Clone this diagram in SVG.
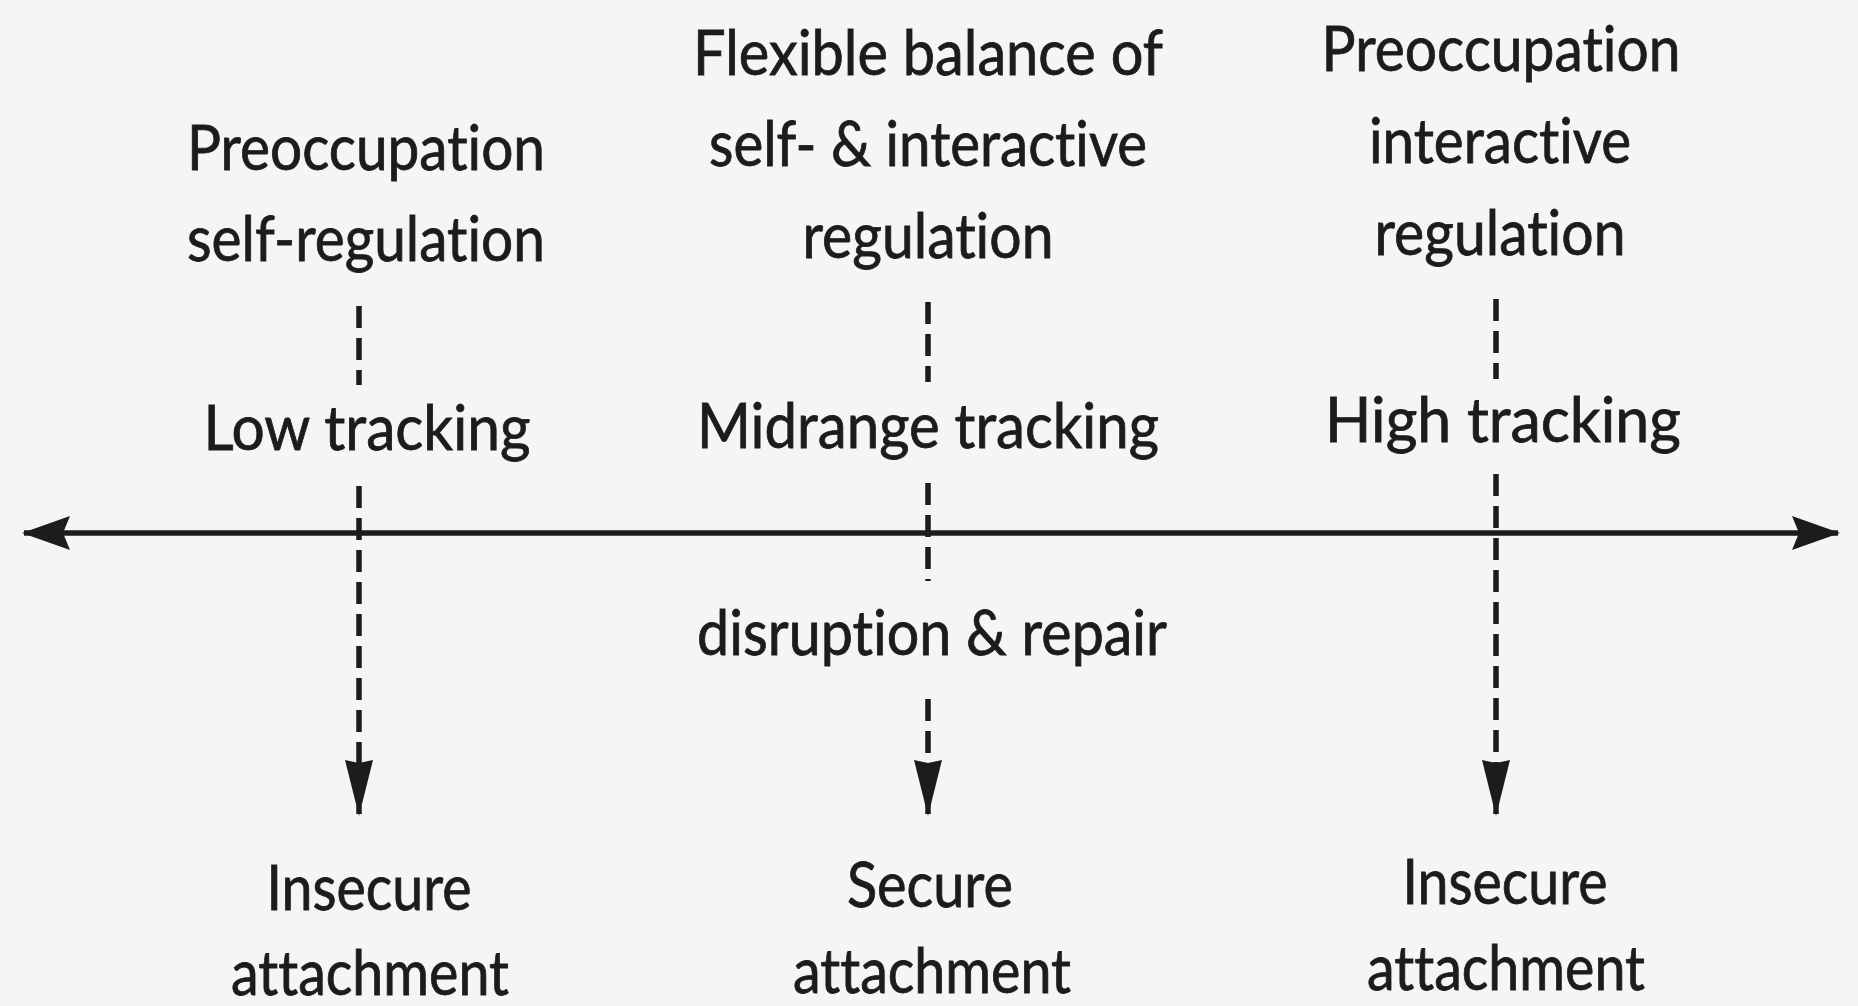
<svg xmlns="http://www.w3.org/2000/svg" width="1858" height="1006" viewBox="0 0 1858 1006">
<style>
text{font-family:Lato,"Liberation Sans",sans-serif;font-size:61px;fill:#1c1c1c;stroke:#1c1c1c;stroke-width:0.8;text-anchor:middle;font-variant-ligatures:none;font-feature-settings:"liga" 0,"dlig" 0}
.dash{stroke:#1c1c1c;stroke-width:5.5;stroke-dasharray:22 10;fill:none}
.axis{stroke:#1c1c1c;stroke-width:5.5;fill:none}
</style>
<defs>
<marker id="ah" markerUnits="userSpaceOnUse" markerWidth="60" markerHeight="32" viewBox="0 0 60 32" refX="56" refY="16" orient="auto-start-reverse">
<path d="M2,2 L58,16 L2,30 L5,16 Z" fill="#1c1c1c"/>
</marker>
<marker id="ax" markerUnits="userSpaceOnUse" markerWidth="52" markerHeight="38" viewBox="0 0 52 38" refX="48" refY="19" orient="auto-start-reverse">
<path d="M2,2 L50,19 L2,36 L9,19 Z" fill="#1c1c1c"/>
</marker>
</defs>
<rect width="1858" height="1006" fill="#f4f5f5"/>
<g id="connectors">
<line class="axis" x1="24" y1="533" x2="1838" y2="533" marker-start="url(#ax)" marker-end="url(#ax)"/>
<line class="dash" x1="359" y1="306" x2="359" y2="385"/>
<line class="dash" x1="928" y1="302" x2="928" y2="382"/>
<line class="dash" x1="1496" y1="299" x2="1496" y2="379"/>
<line class="dash" x1="359" y1="486" x2="359" y2="814" marker-end="url(#ah)"/>
<line class="dash" x1="928" y1="483" x2="928" y2="581"/>
<line class="dash" x1="928" y1="699" x2="928" y2="814" marker-end="url(#ah)"/>
<line class="dash" x1="1496" y1="474" x2="1496" y2="814" marker-end="url(#ah)"/>
</g>
<g id="left-top"><text x="366" y="170" textLength="358" lengthAdjust="spacingAndGlyphs">Preoccupation</text><text x="366" y="261" textLength="358" lengthAdjust="spacingAndGlyphs">self-regulation</text></g>
<g id="mid-top"><text x="928" y="75" textLength="470" lengthAdjust="spacingAndGlyphs">Flexible balance of</text><text x="928" y="166" textLength="438" lengthAdjust="spacingAndGlyphs">self- &amp; interactive</text><text x="928" y="258" textLength="251" lengthAdjust="spacingAndGlyphs">regulation</text></g>
<g id="right-top"><text x="1501" y="71" textLength="359" lengthAdjust="spacingAndGlyphs">Preoccupation</text><text x="1500" y="163" textLength="262" lengthAdjust="spacingAndGlyphs">interactive</text><text x="1500" y="255" textLength="251" lengthAdjust="spacingAndGlyphs">regulation</text></g>
<g id="low"><text x="367" y="450" textLength="327" lengthAdjust="spacingAndGlyphs">Low tracking</text></g>
<g id="mid"><text x="928" y="448" textLength="462" lengthAdjust="spacingAndGlyphs">Midrange tracking</text></g>
<g id="high"><text x="1503" y="442" textLength="356" lengthAdjust="spacingAndGlyphs">High tracking</text></g>
<g id="disruption"><text x="932" y="655" textLength="470" lengthAdjust="spacingAndGlyphs">disruption &amp; repair</text></g>
<g id="left-bottom"><text x="369" y="910" textLength="205" lengthAdjust="spacingAndGlyphs">Insecure</text><text x="370" y="995" textLength="278" lengthAdjust="spacingAndGlyphs">attachment</text></g>
<g id="mid-bottom"><text x="930" y="907" textLength="166" lengthAdjust="spacingAndGlyphs">Secure</text><text x="932" y="993" textLength="278" lengthAdjust="spacingAndGlyphs">attachment</text></g>
<g id="right-bottom"><text x="1505" y="904" textLength="205" lengthAdjust="spacingAndGlyphs">Insecure</text><text x="1506" y="990" textLength="278" lengthAdjust="spacingAndGlyphs">attachment</text></g>
</svg>
